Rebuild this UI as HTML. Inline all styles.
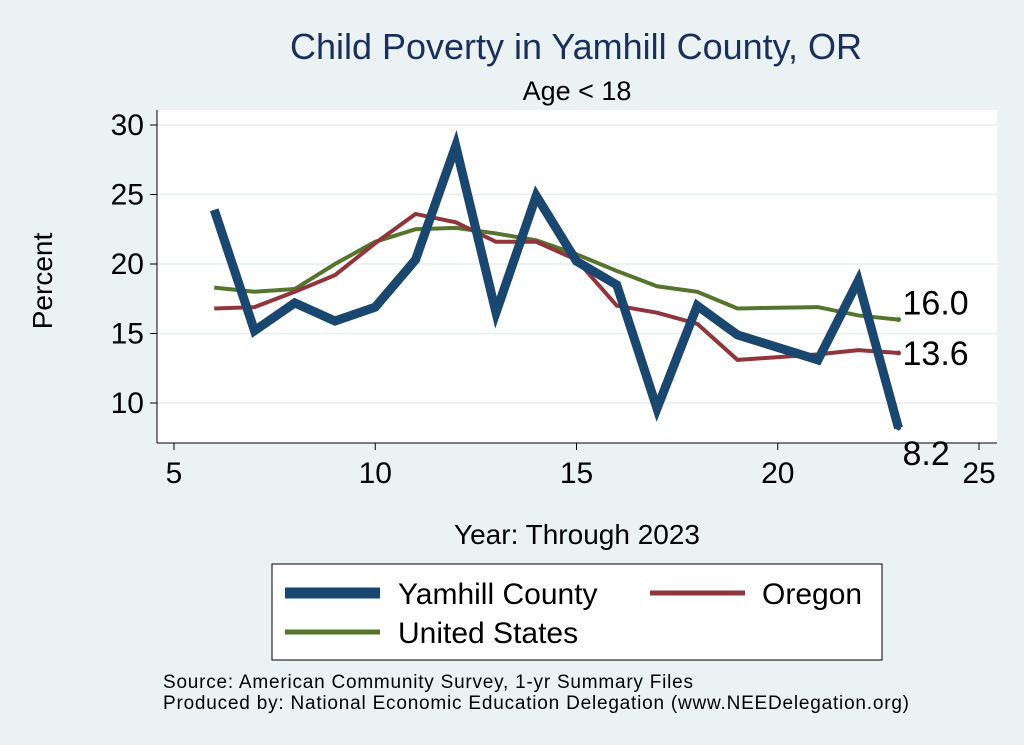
<!DOCTYPE html>
<html><head><meta charset="utf-8"><style>
body{margin:0;background:#eaf2f3;}
svg{display:block;font-family:"Liberation Sans",Arial,sans-serif;}
</style></head><body>
<svg id="c" width="1024" height="745" viewBox="0 0 1024 745">
<rect width="1024" height="745" fill="#eaf2f3"/>
<rect x="157" y="110" width="840" height="333" fill="#fff"/>
<text x="576" y="59" text-anchor="middle" font-size="36" fill="#1c2e5c" textLength="572">Child Poverty in Yamhill County, OR</text>
<text x="577" y="100" text-anchor="middle" font-size="27" fill="#000">Age &lt; 18</text>
<text transform="translate(52,281) rotate(-90)" text-anchor="middle" font-size="28">Percent</text>
<text x="577" y="544" text-anchor="middle" font-size="28">Year: Through 2023</text>
<g id="grid"></g><g id="axes"></g><g id="lines"></g>
<g>
<rect x="272" y="564" width="610" height="96" fill="#fff" stroke="#000" stroke-width="1"/>
<line x1="285" y1="593" x2="380" y2="593" stroke="#1a476f" stroke-width="11"/>
<text x="398" y="604" font-size="30">Yamhill County</text>
<line x1="650" y1="593" x2="745" y2="593" stroke="#90353b" stroke-width="5"/>
<text x="762" y="604" font-size="30">Oregon</text>
<line x1="285" y1="632" x2="380" y2="632" stroke="#55752f" stroke-width="5"/>
<text x="398" y="643" font-size="30">United States</text>
</g>
<text x="163" y="688" font-size="19" textLength="530">Source: American Community Survey, 1-yr Summary Files</text>
<text x="163" y="709" font-size="19" textLength="746">Produced by: National Economic Education Delegation (www.NEEDelegation.org)</text>
</svg>
<script>
const years=[6,7,8,9,10,11,12,13,14,15,16,17,18,19,21,22,23];
const yamhill=[23.9,15.2,17.2,15.9,16.9,20.3,28.5,16.5,24.9,20.2,18.5,9.6,17.0,14.9,13.1,18.8,8.2];
const oregon=[16.8,16.9,18.0,19.2,21.5,23.6,23.0,21.6,21.6,20.3,17.0,16.5,15.7,13.1,13.5,13.8,13.6];
const usa=[18.3,18.0,18.2,20.0,21.6,22.5,22.6,22.2,21.7,20.7,19.5,18.4,18.0,16.8,16.9,16.3,16.0];
const xTicks=[5,10,15,20,25];
const yTicks=[10,15,20,25,30];
const NS='http://www.w3.org/2000/svg';
const X=v=>174+(v-5)*40.25, Y=v=>403-(v-10)*13.9;
function mk(t,a,p){const e=document.createElementNS(NS,t);for(const k in a)e.setAttribute(k,a[k]);p.appendChild(e);return e;}
const grid=document.getElementById('grid'),axes=document.getElementById('axes'),lines=document.getElementById('lines');
mk('line',{x1:157,y1:110,x2:157,y2:443,stroke:'#000','stroke-width':1},axes);
mk('line',{x1:157,y1:443,x2:997,y2:443,stroke:'#000','stroke-width':1},axes);
yTicks.forEach(v=>{
 const g=mk('line',{x1:157,y1:Y(v),x2:997,y2:Y(v),stroke:'#e6eef0','stroke-width':1.5},grid);
 
 mk('line',{x1:150,y1:Y(v),x2:157,y2:Y(v),stroke:'#000'},axes);
 const t=mk('text',{x:144,y:Y(v)+10,'text-anchor':'end','font-size':30},axes);t.textContent=v;
 
});
xTicks.forEach(v=>{
 mk('line',{x1:X(v),y1:443,x2:X(v),y2:450,stroke:'#000'},axes);
 const t=mk('text',{x:X(v),y:483,'text-anchor':'middle','font-size':30},axes);t.textContent=v;
 
});
function series(vals,color,w,name){
 const d=vals.map((v,i)=>(i?'L':'M')+X(years[i])+','+Y(v)).join(' ');
 const p=mk('path',{d:d,fill:'none',stroke:color,'stroke-width':w,'stroke-linejoin':'miter'},lines);
 
}
series(usa,'#55752f',4,'line-united-states');
series(oregon,'#90353b',4,'line-oregon');
series(yamhill,'#1a476f',9,'line-yamhill');
const n=years.length-1;
[[usa,'#55752f',0,-5,'label-us-last'],[oregon,'#90353b',0,12,'label-oregon-last'],[yamhill,'#1a476f',0,37,'label-yamhill-last']].forEach(a=>{
 mk('circle',{cx:X(years[n]),cy:Y(a[0][n]),r:2.5,fill:a[1]},lines);
 const t=mk('text',{x:X(years[n])+4,y:Y(a[0][n])+a[3],'font-size':34},lines);t.textContent=a[0][n].toFixed(1);
 
});
</script>
</body></html>
